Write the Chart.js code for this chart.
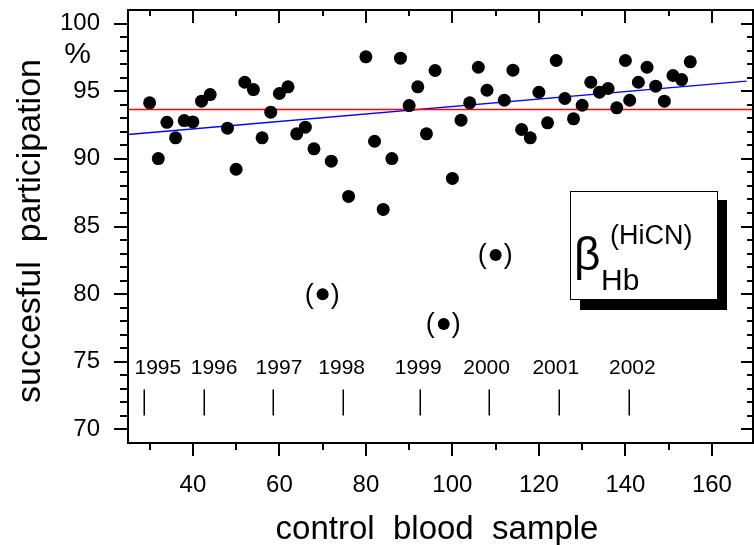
<!DOCTYPE html>
<html><head><meta charset="utf-8">
<script src="https://cdn.jsdelivr.net/npm/chart.js@4/dist/chart.umd.min.js"></script>
<style>html,body{margin:0;padding:0;background:#fff;}canvas{display:block;}</style>
</head><body>
<canvas id="c" width="754" height="545"></canvas>
<script>
// ---- data ----
const sampleX = [30,32,34,36,38,40,42,44,48,50,52,54,56,58,60,62,64,66,68,72,76,80,82,84,86,88,90,92,94,96,100,102,104,106,108,112,114,116,118,120,122,124,126,128,130,132,134,136,138,140,141,143,145,147,149,151,153,155];
const participation = [94.14,90.02,92.7,91.55,92.83,92.73,94.26,94.75,92.27,89.23,95.66,95.12,91.55,93.45,94.83,95.32,91.85,92.34,90.74,89.83,87.22,97.54,91.3,86.26,90.02,97.44,93.94,95.32,91.85,96.53,88.55,92.86,94.14,96.77,95.07,94.33,96.55,92.17,91.55,94.92,92.66,97.27,94.46,92.96,93.96,95.66,94.92,95.2,93.77,97.27,94.33,95.66,96.77,95.37,94.26,96.16,95.86,97.17];
const outlierX = [70, 98, 110];
const outlierY = [80.0, 77.8, 82.9];
const meanLevel = 93.65;
const meanX = [25, 169.5];
const fitX = [25, 168];
const fitY = [91.8, 95.75];
const xTickValues = [40,60,80,100,120,140,160];
const yTickValues = [70,75,80,85,90,95,100];
const yearLabels = ['1995','1996','1997','1998','1999','2000','2001','2002'];
const yearLabelX = [31.9,44.9,59.9,74.4,92.1,107.9,123.9,141.6];
const yearMarkX = [28.6,42.5,58.5,74.6,92.4,108.5,124.6,140.9];
const yearLabelLevel = 74.12;
const yearMarkTop = 72.95, yearMarkBottom = 71.03;
const xTitle = 'control  blood  sample';
const yTitle = 'succesful  participation';
const yUnit = '%';
const boxSymbol = 'β', boxSub = 'Hb', boxSup = '(HiCN)';

const FONT = 'Arial, "Liberation Sans", sans-serif';

const decor = {
  id: 'decor',
  afterDraw(chart) {
    const {ctx, chartArea: a, scales: {x, y}} = chart;
    ctx.save();
    ctx.strokeStyle = '#000'; ctx.fillStyle = '#000'; ctx.lineWidth = 2; ctx.lineCap = 'butt';
    const line = (x1, y1, x2, y2) => { ctx.beginPath(); ctx.moveTo(x1, y1); ctx.lineTo(x2, y2); ctx.stroke(); };
    // frame
    ctx.strokeRect(a.left, a.top, a.right - a.left, a.bottom - a.top);
    // y ticks: left outward, right inward
    for (let v = yTickValues[0]; v <= yTickValues[yTickValues.length - 1]; v++) {
      const py = Math.round(y.getPixelForValue(v));
      const major = yTickValues.includes(v);
      line(a.left - (major ? 14 : 8), py, a.left, py);
      line(a.right - (major ? 12 : 6), py, a.right, py);
    }
    // x ticks: bottom outward, top inward
    for (let v = 30; v <= 160; v += 10) {
      const px = Math.round(x.getPixelForValue(v));
      const major = xTickValues.includes(v);
      line(px, a.bottom, px, a.bottom + (major ? 13 : 7));
      line(px, a.top, px, a.top + (major ? 13 : 6));
    }
    // year annotations
    ctx.font = '21px ' + FONT; ctx.textAlign = 'center'; ctx.textBaseline = 'alphabetic';
    yearLabels.forEach((t, i) => ctx.fillText(t, x.getPixelForValue(yearLabelX[i]), y.getPixelForValue(yearLabelLevel)));
    ctx.lineWidth = 1.5;
    yearMarkX.forEach(v => { const px = Math.round(x.getPixelForValue(v)) + 0.25; line(px, y.getPixelForValue(yearMarkTop), px, y.getPixelForValue(yearMarkBottom)); });
    // parentheses around excluded points
    ctx.font = '27px ' + FONT; ctx.textBaseline = 'middle';
    outlierX.forEach((v, i) => {
      const px = x.getPixelForValue(v), py = y.getPixelForValue(outlierY[i]);
      ctx.fillText('(', px - 13.5, py + 1);
      ctx.fillText(')', px + 12.5, py + 1);
    });
    // axis titles
    ctx.textBaseline = 'alphabetic'; ctx.textAlign = 'center';
    ctx.font = '33px ' + FONT;
    ctx.fillText(xTitle, 437, 539);
    ctx.font = '34px ' + FONT;
    ctx.save(); ctx.translate(40, 231); ctx.rotate(-Math.PI / 2); ctx.fillText(yTitle, 0, 0); ctx.restore();
    ctx.font = '30px ' + FONT;
    ctx.fillText(yUnit, 77.5, 63);
    // label box with shadow
    ctx.fillStyle = '#000'; ctx.fillRect(580, 200, 147, 110);
    ctx.fillStyle = '#fff'; ctx.fillRect(570, 191, 148, 109);
    ctx.lineWidth = 1; ctx.strokeStyle = '#000'; ctx.strokeRect(570.5, 191.5, 147, 108);
    ctx.fillStyle = '#000'; ctx.textAlign = 'left';
    ctx.font = '46px ' + FONT; ctx.fillText(boxSymbol, 574, 270);
    ctx.font = '30px ' + FONT; ctx.fillText(boxSub, 601, 290);
    ctx.font = '27px ' + FONT; ctx.fillText(boxSup, 610, 244);
    ctx.restore();
  }
};

new Chart(document.getElementById('c'), {
  type: 'scatter',
  data: {
    datasets: [
      { data: sampleX.map((v, i) => ({x: v, y: participation[i]})), pointRadius: 6.5, pointHoverRadius: 6.5, backgroundColor: '#000', borderWidth: 0 },
      { data: outlierX.map((v, i) => ({x: v, y: outlierY[i]})), pointRadius: 6, pointHoverRadius: 6, backgroundColor: '#000', borderWidth: 0 },
      { type: 'line', data: meanX.map(v => ({x: v, y: meanLevel})), borderColor: '#ff0000', borderWidth: 1.5, pointRadius: 0, fill: false },
      { type: 'line', data: fitX.map((v, i) => ({x: v, y: fitY[i]})), borderColor: '#0000ff', borderWidth: 1.3, pointRadius: 0, fill: false }
    ]
  },
  options: {
    responsive: false, animation: false, devicePixelRatio: 1,
    layout: { autoPadding: false, padding: { top: 10, right: 1, left: 0, bottom: 0 } },
    plugins: { legend: { display: false }, tooltip: { enabled: false } },
    events: [],
    scales: {
      x: {
        type: 'linear', min: 25, max: 169.5,
        grid: { display: false }, border: { display: false },
        afterBuildTicks: s => { s.ticks = xTickValues.map(v => ({value: v})); },
        afterFit: s => { s.height = 102; s.paddingLeft = 0; s.paddingRight = 0; },
        ticks: { padding: 20, color: '#000', font: { family: FONT, size: 24 }, maxRotation: 0, autoSkip: false }
      },
      y: {
        type: 'linear', min: 69, max: 101,
        grid: { display: false }, border: { display: false },
        afterBuildTicks: s => { s.ticks = yTickValues.map(v => ({value: v})); },
        afterFit: s => { s.width = 128; s.paddingTop = 0; s.paddingBottom = 0; },
        ticks: { padding: 20, color: '#000', font: { family: FONT, size: 24 }, autoSkip: false }
      }
    }
  },
  plugins: [decor]
});
</script>
</body></html>
